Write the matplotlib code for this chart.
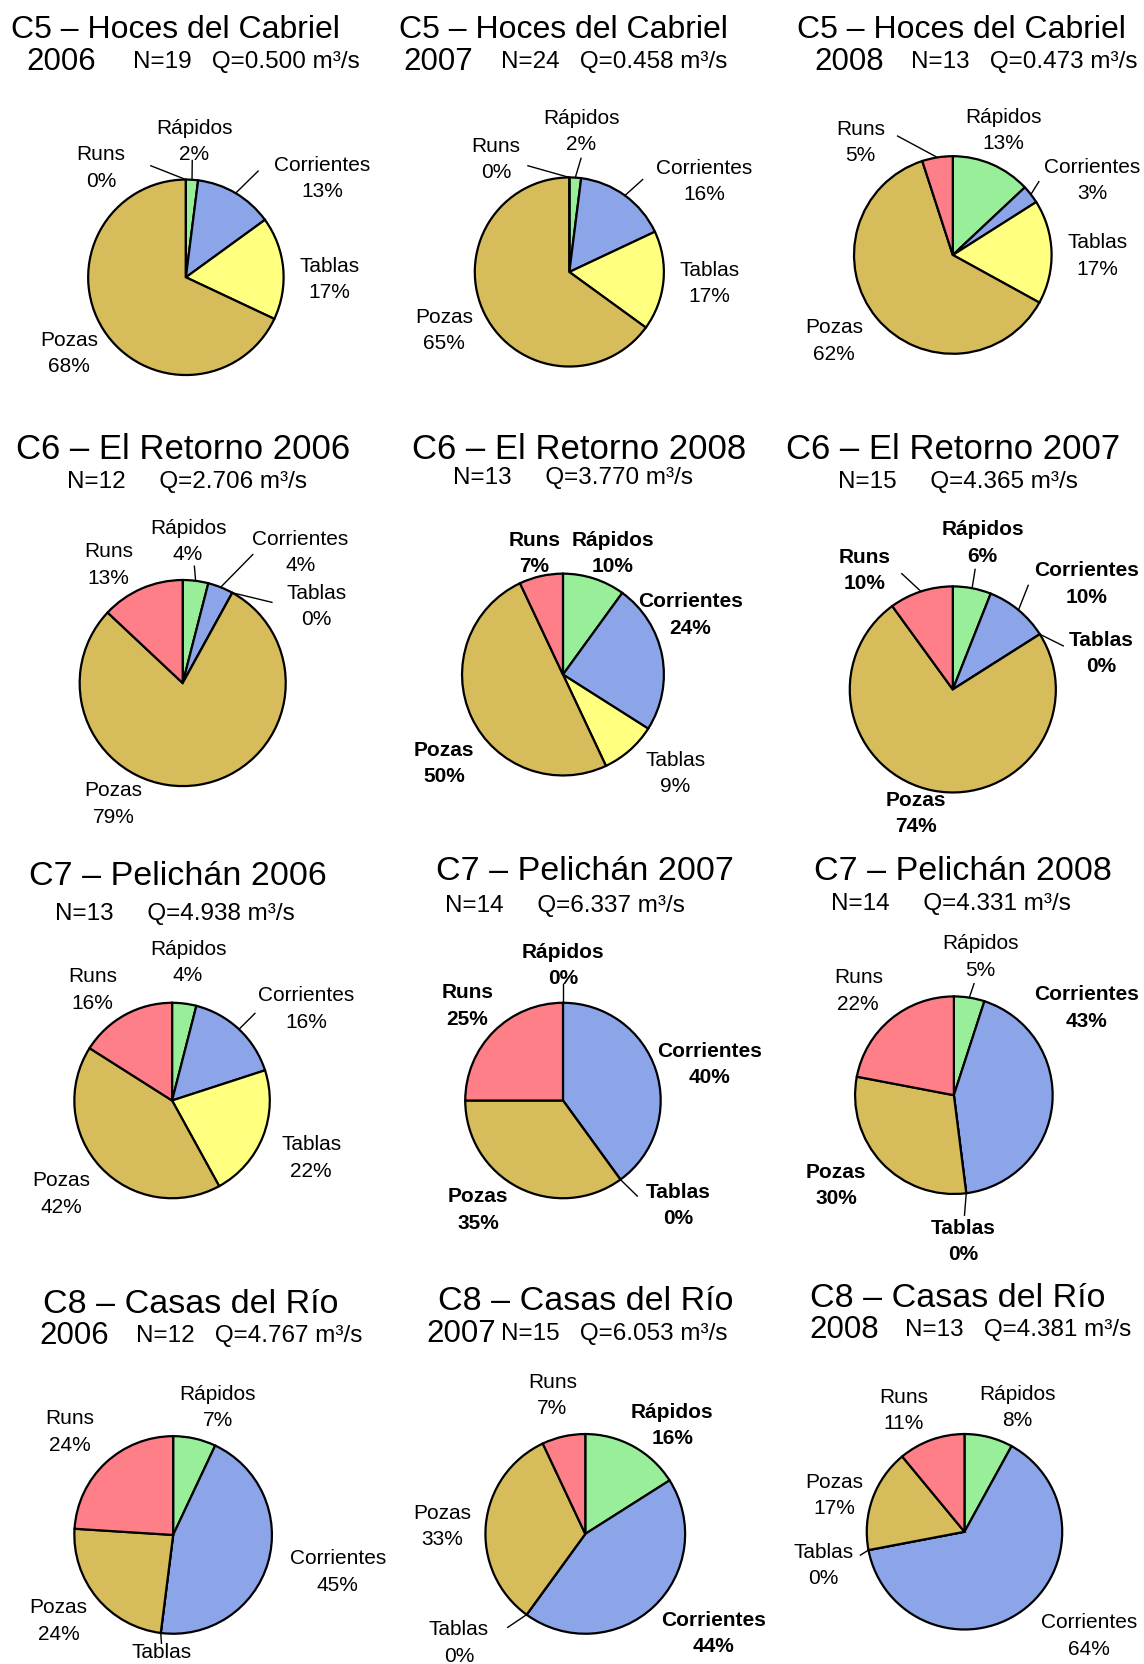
import matplotlib
matplotlib.use("Agg")
import matplotlib.pyplot as plt
import numpy as np

plt.rcParams['font.family'] = ['Liberation Sans', 'DejaVu Sans']

# orden de los sectores (sentido horario desde arriba)
categorias = ["Rápidos", "Corrientes", "Tablas", "Pozas", "Runs"]
colores = ["#99EE99", "#8CA5E8", "#FFFF80", "#D6BC5A", "#FF7F88"]

c5_2006 = [2, 13, 17, 68, 0]
c5_2007 = [2, 16, 17, 65, 0]
c5_2008 = [13, 3, 17, 62, 5]
c6_2006 = [4, 4, 0, 79, 13]
c6_2008 = [10, 24, 9, 50, 7]
c6_2007 = [6, 10, 0, 74, 10]
c7_2006 = [4, 16, 22, 42, 16]
c7_2007 = [0, 40, 0, 35, 25]
c7_2008 = [5, 43, 0, 30, 22]
c8_2006 = [7, 45, 0, 24, 24]
c8_2007 = [16, 44, 0, 33, 7]
c8_2008 = [8, 64, 0, 17, 11]

series = [c5_2006, c5_2007, c5_2008, c6_2006, c6_2008, c6_2007,
          c7_2006, c7_2007, c7_2008, c8_2006, c8_2007, c8_2008]

titulos = ["C5 – Hoces del Cabriel", "C5 – Hoces del Cabriel", "C5 – Hoces del Cabriel",
           "C6 – El Retorno 2006", "C6 – El Retorno 2008", "C6 – El Retorno 2007",
           "C7 – Pelichán 2006", "C7 – Pelichán 2007", "C7 – Pelichán 2008",
           "C8 – Casas del Río", "C8 – Casas del Río", "C8 – Casas del Río"]
anios = ["2006", "2007", "2008", None, None, None, None, None, None, "2006", "2007", "2008"]
n_muestras = [19, 24, 13, 12, 13, 15, 13, 14, 14, 12, 15, 13]
caudales = ["0.500", "0.458", "0.473", "2.706", "3.770", "4.365",
            "4.938", "6.337", "4.331", "4.767", "6.053", "4.381"]

# posiciones medidas sobre la imagen de 1077 px de ancho
W, H = 1144, 1665
s = W / 1077.0

layout = [
    dict(c=(175, 262), r=92, t=(165, 28), ts=23, y=(25, 58), sub=(125, 58, 'left'),
         lab=[(183, 133), (303, 168), (310, 263), (65, 333), (95, 158)],
         lead={0: (181, 152), 1: (243, 162), 4: (142, 157)}, bold=[]),
    dict(c=(536, 257), r=89, t=(530, 28), ts=23, y=(380, 58), sub=(472, 58, 'left'),
         lab=[(547, 124), (663, 171), (668, 267), (418, 311), (467, 150)],
         lead={0: (547, 150), 1: (605, 170), 4: (497, 157)}, bold=[]),
    dict(c=(897, 241), r=93, t=(905, 28), ts=23, y=(767, 58), sub=(858, 58, 'left'),
         lab=[(945, 123), (1028, 170), (1033, 241), (785, 321), (810, 134)],
         lead={1: (978, 172), 4: (845, 129)}, bold=[]),
    dict(c=(172, 644), r=97, t=(172, 423), ts=25, y=None, sub=(176, 454, 'center'),
         lab=[(177, 510), (283, 520), (298, 571), (107, 757), (102, 532)],
         lead={0: (183, 534), 1: (238, 523), 2: (256, 568)}, bold=[]),
    dict(c=(530, 636), r=95, t=(545, 423), ts=25, y=None, sub=(539, 450, 'center'),
         lab=[(577, 521), (650, 579), (636, 728), (418, 719), (503, 521)],
         lead={}, bold=[0, 1, 3, 4]),
    dict(c=(897, 650), r=97, t=(897, 423), ts=25, y=None, sub=(902, 454, 'center'),
         lab=[(925, 511), (1023, 550), (1037, 615), (862, 766), (814, 537)],
         lead={0: (918, 537), 1: (968, 552), 2: (1001, 609), 4: (849, 541)},
         bold=[0, 1, 2, 3, 4]),
    dict(c=(162, 1037), r=92, t=(167, 825), ts=24.5, y=None, sub=(165, 860, 'center'),
         lab=[(177, 906), (288, 950), (293, 1090), (58, 1124), (87, 932)],
         lead={1: (240, 955)}, bold=[]),
    dict(c=(530, 1037), r=92, t=(551, 820), ts=24.5, y=None, sub=(532, 853, 'center'),
         lab=[(530, 909), (668, 1002), (638, 1135), (450, 1139), (440, 947)],
         lead={0: (530, 927), 2: (600, 1127)}, bold=[0, 1, 2, 3, 4]),
    dict(c=(898, 1032), r=93, t=(907, 820), ts=24.5, y=None, sub=(895, 851, 'center'),
         lab=[(923, 901), (1023, 949), (907, 1169), (787, 1116), (808, 933)],
         lead={0: (917, 927), 2: (908, 1145)}, bold=[1, 2, 3]),
    dict(c=(163, 1446), r=93, t=(180, 1228), ts=24.5, y=(37, 1258), sub=(128, 1258, 'left'),
         lab=[(205, 1325), (318, 1480), (152, 1556), (55, 1526), (66, 1348)],
         lead={2: (152, 1548)}, bold=[], solo_nombre=[2]),
    dict(c=(551, 1445), r=94, t=(551, 1225), ts=24.5, y=(401, 1256), sub=(472, 1256, 'left'),
         lab=[(633, 1342), (672, 1538), (432, 1547), (416, 1437), (520, 1314)],
         lead={2: (478, 1533)}, bold=[0, 1]),
    dict(c=(908, 1443), r=92, t=(902, 1222), ts=24.5, y=(762, 1252), sub=(852, 1252, 'left'),
         lab=[(958, 1325), (1025, 1540), (775, 1474), (785, 1408), (851, 1328)],
         lead={2: (810, 1465)}, bold=[]),
]


def px(x, y):
    return x * s, H - y * s


fig = plt.figure(figsize=(W / 100, H / 100), dpi=100)
ax = fig.add_axes([0, 0, 1, 1])

for i, (vals, lay) in enumerate(zip(series, layout)):
    cx, cy = px(*lay['c'])
    R = lay['r'] * s
    ax.pie(vals, colors=colores, startangle=90, counterclock=False,
           center=(cx, cy), radius=R,
           wedgeprops=dict(edgecolor='black', linewidth=1.6))

    # titulo y subtitulo
    tx, ty = px(*lay['t'])
    ax.text(tx, ty, titulos[i], ha='center', va='center', fontsize=lay['ts'])
    if anios[i] is not None:
        yx, yy = px(*lay['y'])
        ax.text(yx, yy, anios[i], ha='left', va='center', fontsize=22.5)
        sub = f"N={n_muestras[i]}   Q={caudales[i]} m³/s"
    else:
        sub = f"N={n_muestras[i]}     Q={caudales[i]} m³/s"
    sx, sy = px(lay['sub'][0], lay['sub'][1])
    ax.text(sx, sy, sub, ha=lay['sub'][2], va='center', fontsize=17.5)

    # etiquetas de los sectores
    total = float(sum(vals))
    acum = np.cumsum([0] + vals[:-1])
    for k, cat in enumerate(categorias):
        lx, ly = px(*lay['lab'][k])
        peso = 'bold' if k in lay['bold'] else 'normal'
        if k in lay.get('solo_nombre', []):
            txt = cat
        else:
            txt = f"{cat}\n{vals[k]}%"
        ax.text(lx, ly, txt, ha='center', va='center',
                fontsize=15, linespacing=1.5, fontweight=peso)
        if k in lay['lead']:
            ang = np.deg2rad(360.0 * (acum[k] + vals[k] / 2.0) / total)
            ex, ey = cx + R * np.sin(ang), cy + R * np.cos(ang)
            bx, by = px(*lay['lead'][k])
            ax.plot([bx, ex], [by, ey], color='black', lw=1.0)

ax.set_xlim(0, W)
ax.set_ylim(0, H)
ax.set_aspect('equal')
ax.axis('off')

fig.savefig("out.png", dpi=100)
